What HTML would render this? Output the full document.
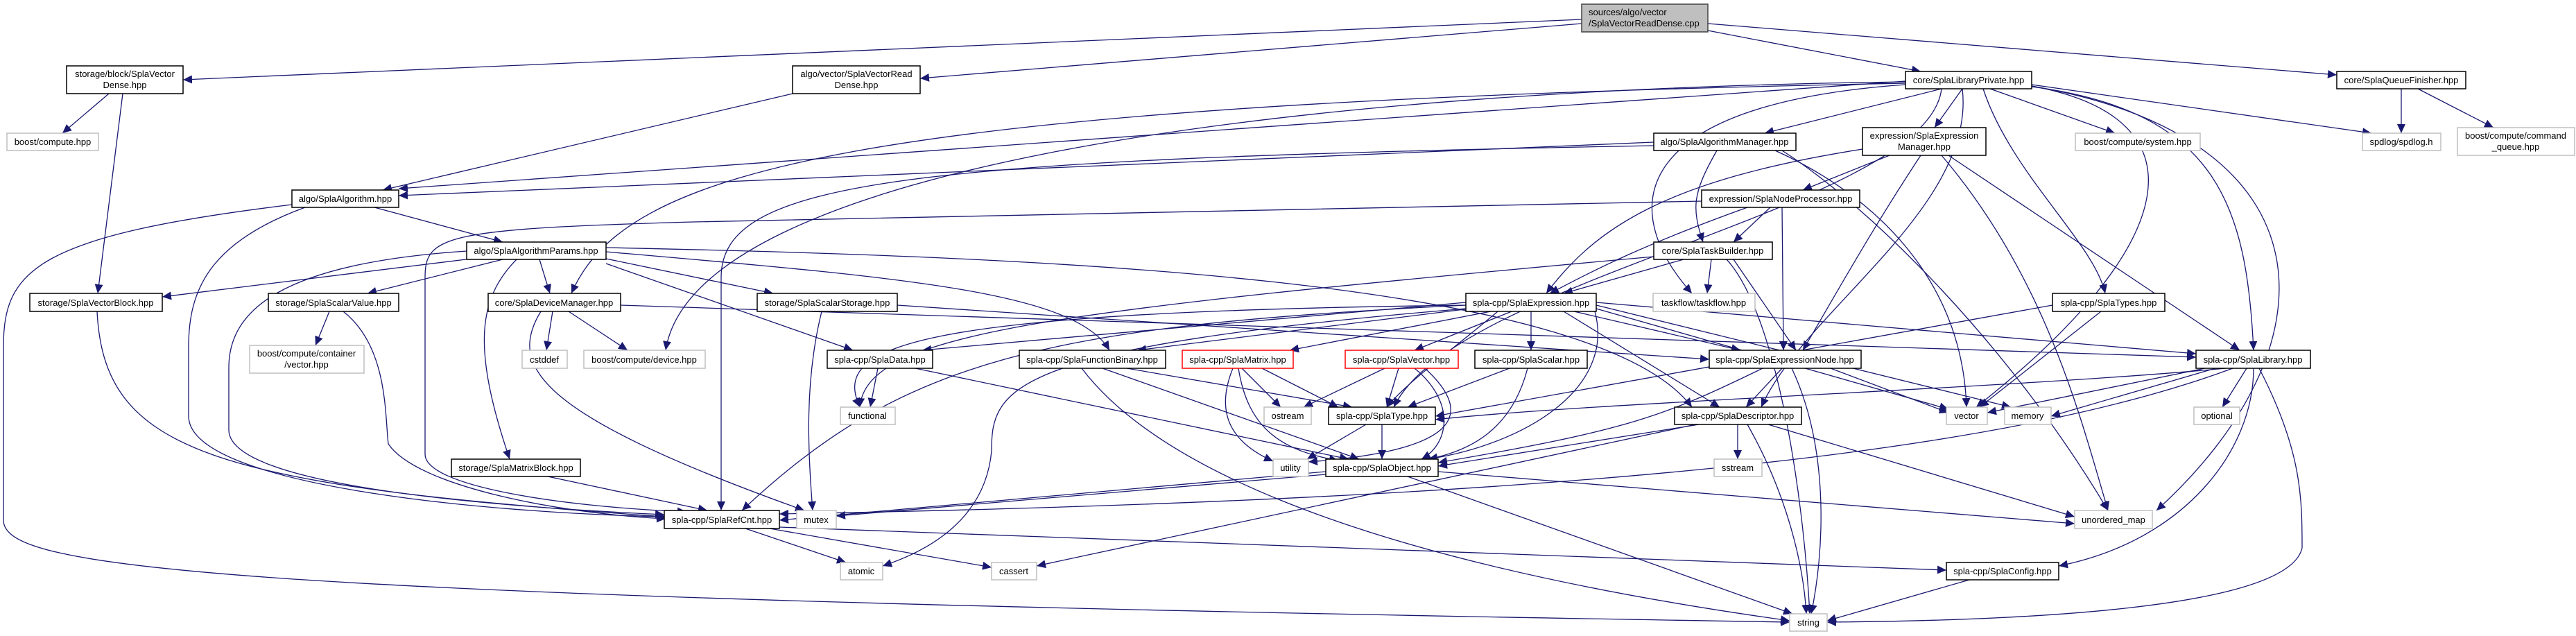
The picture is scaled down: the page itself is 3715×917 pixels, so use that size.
<!DOCTYPE html>
<html><head><meta charset="utf-8"><style>
html,body{margin:0;padding:0;background:#fff;}
svg{display:block;}
text{font-family:"Liberation Sans",Arial,sans-serif;font-size:13px;fill:#000;}
.e{fill:none;stroke:#191970;stroke-width:1.3;marker-end:url(#a);}
.n{fill:#fff;stroke:#000;stroke-width:1.5;}
.g{fill:#fff;stroke:#bfbfbf;stroke-width:1.5;}
.r{fill:#fff;stroke:#ff0000;stroke-width:1.5;}
</style></head><body>
<svg width="3715" height="917" viewBox="0 0 3715 917" xmlns="http://www.w3.org/2000/svg">
<defs><marker id="a" markerUnits="userSpaceOnUse" markerWidth="14" markerHeight="12" refX="13" refY="6" orient="auto"><path d="M0,0 L13,6 L0,12 z" fill="#191970"/></marker></defs>
<g>
<path class="e" d="M2281,28 L264,115"/>
<path class="e" d="M2281,34 L1327,113"/>
<path class="e" d="M2463,44 L2770,103"/>
<path class="e" d="M2463,34 L3370,108"/>
<path class="e" d="M157,135 L90,192"/>
<path class="e" d="M177,135 L141,423"/>
<path class="e" d="M1143,135 L552,274"/>
<path class="e" d="M2748,117 L575,272"/>
<path class="e" d="M2748,120 C1200,150 900,250 824,423"/>
<path class="e" d="M2800,128 L2545,192"/>
<path class="e" d="M2830,128 L2790,184"/>
<path class="e" d="M2870,128 L3050,192"/>
<path class="e" d="M2930,122 L3420,192"/>
<path class="e" d="M2860,128 C2900,250 3020,350 3036,423"/>
<path class="e" d="M2930,125 C3200,160 3240,300 3250,505"/>
<path class="e" d="M2930,124 C3180,170 3150,350 2850,587"/>
<path class="e" d="M2930,124 C3370,200 3370,500 3110,736"/>
<path class="e" d="M2748,122 C2350,150 2330,300 2440,423"/>
<path class="e" d="M2748,118 C1800,130 1000,250 960,505"/>
<path class="e" d="M2800,128 C2780,300 2100,400 2010,587"/>
<path class="e" d="M2830,128 C2850,300 2600,450 2540,587"/>
<path class="e" d="M3463,128 L3463,192"/>
<path class="e" d="M3487,128 L3596,184"/>
<path class="e" d="M2385,205 L575,282"/>
<path class="e" d="M2385,210 C1300,230 1040,260 1040,400 L1040,700 C1040,720 1040,730 1040,736"/>
<path class="e" d="M2476,217 C2440,280 2440,300 2456,349"/>
<path class="e" d="M2560,217 C2700,280 2830,400 2836,587"/>
<path class="e" d="M2570,217 C2700,300 2900,500 3040,736"/>
<path class="e" d="M2725,224 L2600,274"/>
<path class="e" d="M2686,215 C2400,260 2300,330 2230,423"/>
<path class="e" d="M2770,224 C2700,330 2650,420 2600,505"/>
<path class="e" d="M2810,224 L3230,505"/>
<path class="e" d="M2800,224 C2950,400 3000,600 3040,736"/>
<path class="e" d="M2454,290 L1000,320 C640,330 613,340 613,400 L613,655 C613,700 800,730 990,738"/>
<path class="e" d="M2553,299 L2500,349"/>
<path class="e" d="M2520,299 C2350,360 2280,400 2235,423"/>
<path class="e" d="M2570,299 L2572,505"/>
<path class="e" d="M2428,374 L2255,423"/>
<path class="e" d="M2468,374 L2462,423"/>
<path class="e" d="M2385,370 C1500,450 1250,480 1240,587"/>
<path class="e" d="M2490,374 C2560,450 2600,700 2610,885"/>
<path class="e" d="M2500,374 L2590,505"/>
<path class="e" d="M540,299 L725,349"/>
<path class="e" d="M440,299 C300,350 272,420 272,500 L272,600 C272,700 700,740 960,745"/>
<path class="e" d="M421,295 C50,340 5,390 5,500 L5,750 C5,820 300,860 2581,897"/>
<path class="e" d="M680,373 L234,428"/>
<path class="e" d="M725,374 L530,423"/>
<path class="e" d="M778,374 L793,423"/>
<path class="e" d="M874,373 L1115,423"/>
<path class="e" d="M874,380 L1230,505"/>
<path class="e" d="M874,363 C1300,400 1550,420 1600,505"/>
<path class="e" d="M874,357 C1500,370 2300,400 2440,587"/>
<path class="e" d="M745,374 C690,430 680,500 735,662"/>
<path class="e" d="M673,362 C400,380 330,450 330,530 L330,620 C330,700 700,730 958,742"/>
<path class="e" d="M140,449 C150,650 300,700 960,745"/>
<path class="e" d="M475,449 L455,498"/>
<path class="e" d="M495,449 C560,500 555,600 560,640 C600,700 800,740 960,748"/>
<path class="e" d="M797,449 L788,505"/>
<path class="e" d="M820,449 L905,505"/>
<path class="e" d="M780,449 C730,530 780,600 1160,736"/>
<path class="e" d="M895,440 L3167,515"/>
<path class="e" d="M1185,449 C1160,550 1165,650 1172,736"/>
<path class="e" d="M1294,440 L2465,518"/>
<path class="e" d="M790,687 L1020,736"/>
<path class="e" d="M2114,436 L1330,505"/>
<path class="e" d="M2120,445 L1640,505"/>
<path class="e" d="M2150,449 L1860,505"/>
<path class="e" d="M2180,449 L2040,505"/>
<path class="e" d="M2208,449 L2208,505"/>
<path class="e" d="M2270,449 L2510,505"/>
<path class="e" d="M2255,449 L2480,587"/>
<path class="e" d="M2114,440 C1500,470 1300,520 1070,736"/>
<path class="e" d="M2114,445 C1450,500 1430,560 1430,650 C1420,760 1320,800 1273,816"/>
<path class="e" d="M2300,449 C2330,560 2200,640 2060,662"/>
<path class="e" d="M2302,445 L2810,590"/>
<path class="e" d="M2302,440 L2900,587"/>
<path class="e" d="M2302,436 L3167,510"/>
<path class="e" d="M2114,440 C1300,450 1200,500 1240,587"/>
<path class="e" d="M2160,449 C2100,500 2030,550 2000,587"/>
<path class="e" d="M1266,531 L1255,587"/>
<path class="e" d="M1320,531 L1945,662"/>
<path class="e" d="M1625,531 L1950,587"/>
<path class="e" d="M1590,531 L1960,662"/>
<path class="e" d="M1560,531 C1650,650 1900,800 2581,895"/>
<path class="e" d="M1791,531 L1847,587"/>
<path class="e" d="M1778,531 C1750,600 1780,640 1836,665"/>
<path class="e" d="M1820,531 L1930,587"/>
<path class="e" d="M1786,531 C1800,620 1850,650 1930,664"/>
<path class="e" d="M1997,531 L1880,587"/>
<path class="e" d="M2017,531 L2000,587"/>
<path class="e" d="M2040,531 C2100,580 2090,640 2050,662"/>
<path class="e" d="M2055,531 C2130,600 2100,650 1887,666"/>
<path class="e" d="M2177,531 L2030,587"/>
<path class="e" d="M2203,531 C2180,620 2120,650 2060,662"/>
<path class="e" d="M2570,531 L2518,587"/>
<path class="e" d="M2542,531 C2400,600 2350,620 2074,667"/>
<path class="e" d="M2640,531 L2810,595"/>
<path class="e" d="M2584,531 C2640,650 2630,800 2612,885"/>
<path class="e" d="M2960,440 L2070,600"/>
<path class="e" d="M3030,449 L2855,587"/>
<path class="e" d="M1993,612 L1993,662"/>
<path class="e" d="M1970,612 L1885,662"/>
<path class="e" d="M2506,612 L2506,662"/>
<path class="e" d="M2520,612 C2570,700 2600,800 2605,885"/>
<path class="e" d="M2450,612 L2074,672"/>
<path class="e" d="M2550,612 L2992,745"/>
<path class="e" d="M2445,612 L1495,816"/>
<path class="e" d="M3180,531 L2866,595"/>
<path class="e" d="M3195,531 L2958,600"/>
<path class="e" d="M3240,531 L3205,587"/>
<path class="e" d="M3250,531 C3250,650 3150,780 2969,816"/>
<path class="e" d="M3258,531 C3320,650 3320,720 3320,790 C3300,880 2900,895 2635,897"/>
<path class="e" d="M3220,531 C2900,650 2300,720 1124,741"/>
<path class="e" d="M3210,531 C2900,560 2300,580 2070,605"/>
<path class="e" d="M1912,680 L1124,750"/>
<path class="e" d="M2030,687 L2585,885"/>
<path class="e" d="M2074,680 L2992,755"/>
<path class="e" d="M1912,684 L1206,744"/>
<path class="e" d="M1075,762 L1220,811"/>
<path class="e" d="M1110,762 L1430,818"/>
<path class="e" d="M1124,760 L2807,822"/>
<path class="e" d="M2840,836 L2635,895"/>
</g>
<g>
<!-- two-line nodes -->
<rect x="2281" y="6" width="182" height="40" fill="#bfbfbf" stroke="#404040" stroke-width="1.5"/>
<text x="2291" y="22">sources/algo/vector</text><text x="2291" y="38">/SplaVectorReadDense.cpp</text>
<rect class="n" x="96" y="95" width="168" height="40"/>
<text x="180" y="111" text-anchor="middle">storage/block/SplaVector</text><text x="180" y="127" text-anchor="middle">Dense.hpp</text>
<rect class="n" x="1143" y="95" width="184" height="40"/>
<text x="1235" y="111" text-anchor="middle">algo/vector/SplaVectorRead</text><text x="1235" y="127" text-anchor="middle">Dense.hpp</text>
<rect class="n" x="2686" y="184" width="178" height="40"/>
<text x="2775" y="200" text-anchor="middle">expression/SplaExpression</text><text x="2775" y="216" text-anchor="middle">Manager.hpp</text>
<rect class="g" x="3544" y="184" width="169" height="40"/>
<text x="3628" y="200" text-anchor="middle">boost/compute/command</text><text x="3628" y="216" text-anchor="middle">_queue.hpp</text>
<rect class="g" x="360" y="498" width="165" height="40"/>
<text x="442" y="514" text-anchor="middle">boost/compute/container</text><text x="442" y="530" text-anchor="middle">/vector.hpp</text>
</g>
<g text-anchor="middle">
<rect class="n" x="2748" y="103" width="182" height="25"/><text x="2839" y="120">core/SplaLibraryPrivate.hpp</text>
<rect class="n" x="3370" y="103" width="186" height="25"/><text x="3463" y="120">core/SplaQueueFinisher.hpp</text>
<rect class="g" x="10" y="192" width="132" height="25"/><text x="76" y="209">boost/compute.hpp</text>
<rect class="n" x="2385" y="192" width="205" height="25"/><text x="2487" y="209">algo/SplaAlgorithmManager.hpp</text>
<rect class="g" x="2993" y="192" width="180" height="25"/><text x="3083" y="209">boost/compute/system.hpp</text>
<rect class="g" x="3407" y="192" width="113" height="25"/><text x="3463" y="209">spdlog/spdlog.h</text>
<rect class="n" x="421" y="274" width="154" height="25"/><text x="498" y="291">algo/SplaAlgorithm.hpp</text>
<rect class="n" x="2454" y="274" width="228" height="25"/><text x="2568" y="291">expression/SplaNodeProcessor.hpp</text>
<rect class="n" x="673" y="349" width="201" height="25"/><text x="773" y="366">algo/SplaAlgorithmParams.hpp</text>
<rect class="n" x="2385" y="349" width="171" height="25"/><text x="2470" y="366">core/SplaTaskBuilder.hpp</text>
<rect class="n" x="43" y="423" width="191" height="26"/><text x="138" y="441">storage/SplaVectorBlock.hpp</text>
<rect class="n" x="387" y="423" width="188" height="26"/><text x="481" y="441">storage/SplaScalarValue.hpp</text>
<rect class="n" x="704" y="423" width="191" height="26"/><text x="799" y="441">core/SplaDeviceManager.hpp</text>
<rect class="n" x="1092" y="423" width="202" height="26"/><text x="1193" y="441">storage/SplaScalarStorage.hpp</text>
<rect class="n" x="2114" y="423" width="188" height="26"/><text x="2208" y="441">spla-cpp/SplaExpression.hpp</text>
<rect class="g" x="2384" y="423" width="147" height="26"/><text x="2457" y="441">taskflow/taskflow.hpp</text>
<rect class="n" x="2960" y="423" width="162" height="26"/><text x="3041" y="441">spla-cpp/SplaTypes.hpp</text>
<rect class="g" x="753" y="505" width="65" height="26"/><text x="785" y="523">cstddef</text>
<rect class="g" x="842" y="505" width="175" height="26"/><text x="929" y="523">boost/compute/device.hpp</text>
<rect class="n" x="1193" y="505" width="152" height="26"/><text x="1269" y="523">spla-cpp/SplaData.hpp</text>
<rect class="n" x="1470" y="505" width="211" height="26"/><text x="1575" y="523">spla-cpp/SplaFunctionBinary.hpp</text>
<rect class="r" x="1705" y="505" width="160" height="26"/><text x="1785" y="523">spla-cpp/SplaMatrix.hpp</text>
<rect class="r" x="1940" y="505" width="163" height="26"/><text x="2021" y="523">spla-cpp/SplaVector.hpp</text>
<rect class="n" x="2127" y="505" width="162" height="26"/><text x="2208" y="523">spla-cpp/SplaScalar.hpp</text>
<rect class="n" x="2465" y="505" width="219" height="26"/><text x="2574" y="523">spla-cpp/SplaExpressionNode.hpp</text>
<rect class="n" x="3167" y="505" width="165" height="26"/><text x="3249" y="523">spla-cpp/SplaLibrary.hpp</text>
<rect class="g" x="1212" y="587" width="79" height="25"/><text x="1251" y="604">functional</text>
<rect class="g" x="1823" y="587" width="68" height="25"/><text x="1857" y="604">ostream</text>
<rect class="n" x="1916" y="587" width="154" height="25"/><text x="1993" y="604">spla-cpp/SplaType.hpp</text>
<rect class="n" x="2415" y="587" width="183" height="25"/><text x="2506" y="604">spla-cpp/SplaDescriptor.hpp</text>
<rect class="g" x="2807" y="587" width="59" height="25"/><text x="2836" y="604">vector</text>
<rect class="g" x="2891" y="587" width="67" height="25"/><text x="2924" y="604">memory</text>
<rect class="g" x="3164" y="587" width="66" height="25"/><text x="3197" y="604">optional</text>
<rect class="n" x="651" y="662" width="186" height="25"/><text x="744" y="679">storage/SplaMatrixBlock.hpp</text>
<rect class="g" x="1836" y="662" width="51" height="25"/><text x="1861" y="679">utility</text>
<rect class="n" x="1912" y="662" width="162" height="25"/><text x="1993" y="679">spla-cpp/SplaObject.hpp</text>
<rect class="g" x="2472" y="662" width="69" height="25"/><text x="2506" y="679">sstream</text>
<rect class="n" x="958" y="736" width="166" height="26"/><text x="1041" y="754">spla-cpp/SplaRefCnt.hpp</text>
<rect class="g" x="1149" y="736" width="57" height="26"/><text x="1177" y="754">mutex</text>
<rect class="g" x="2992" y="736" width="112" height="26"/><text x="3048" y="754">unordered_map</text>
<rect class="g" x="1212" y="811" width="61" height="25"/><text x="1242" y="828">atomic</text>
<rect class="g" x="1430" y="811" width="65" height="25"/><text x="1462" y="828">cassert</text>
<rect class="n" x="2807" y="811" width="162" height="25"/><text x="2888" y="828">spla-cpp/SplaConfig.hpp</text>
<rect class="g" x="2581" y="885" width="54" height="25"/><text x="2608" y="902">string</text>
</g>
</svg>
</body></html>
